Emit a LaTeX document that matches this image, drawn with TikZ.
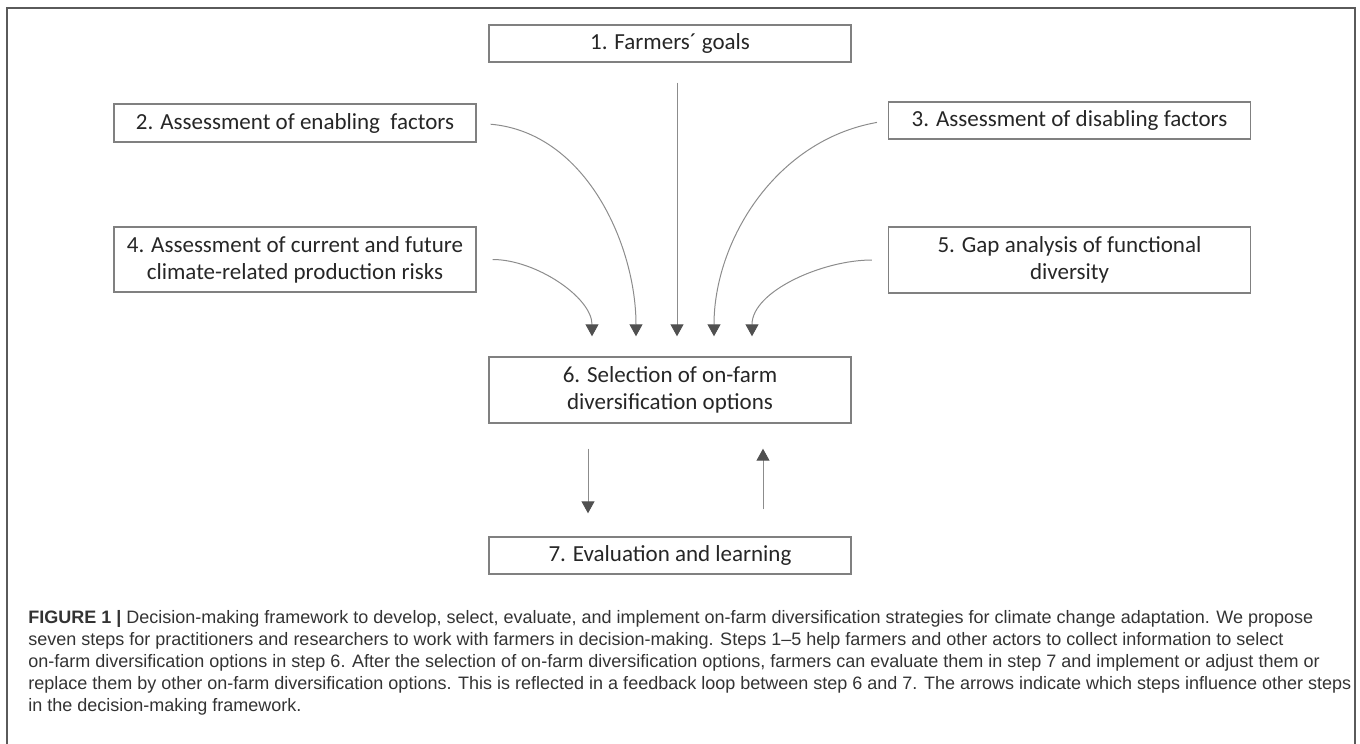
\documentclass[tikz,border=0pt]{standalone}
\usepackage{fontspec}
\setmainfont{Carlito}
\newfontfamily\capfont{Liberation Sans}
\usetikzlibrary{arrows.meta}
\definecolor{boxline}{HTML}{808080}
\definecolor{arrline}{HTML}{8C8C8C}
\definecolor{arrtip}{HTML}{505050}
\definecolor{framecol}{HTML}{5A5A5A}
\definecolor{captext}{HTML}{333333}

\begin{document}
\begin{tikzpicture}[x=0.5pt,y=0.5pt,
    stepbox/.style={draw=boxline, line width=0.7pt, minimum width=181pt, inner sep=0pt,
      align=center, text=black!85, font=\fontsize{11.5}{13.5}\selectfont},
    flow/.style={draw=arrline, line width=0.5pt,
      -{Triangle[length=6pt,width=6.5pt,color=arrtip]}}]
  \useasboundingbox (0,0) rectangle (1360,-744);
  \draw[framecol, line width=0.8pt] (7,-760) -- (7,-8) -- (1355,-8) -- (1355,-760);

  \node[stepbox, minimum height=18.5pt] (goals) at (670,-43.5) {1. Farmers´ goals};
  \node[stepbox, minimum height=19pt] (enab) at (295,-123) {2. Assessment of enabling\ \ factors};
  \node[stepbox, minimum height=18.5pt] (disab) at (1069.5,-120.5) {3. Assessment of disabling factors};
  \node[stepbox, minimum height=32.5pt] (risk) at (295,-259.5) {4. Assessment of current and future\\climate-related production risks};
  \node[stepbox, minimum height=33pt] (gap) at (1069.5,-260) {5. Gap analysis of functional\\diversity};
  \node[stepbox, minimum height=33pt] (sel) at (670,-390) {6. Selection of on-farm\\diversification options};
  \node[stepbox, minimum height=18.5pt] (eval) at (670,-555.5) {7. Evaluation and learning};

  \draw[flow, shorten <=10pt, shorten >=10pt] ([xshift=3.5pt]goals.south) -- ([xshift=3.5pt]sel.north);
  \draw[flow, shorten <=7pt, shorten >=10pt] (enab.east) to[out=-5,in=90] ([xshift=-17pt]sel.north);
  \draw[flow, shorten <=8pt, shorten >=10pt] (risk.east) to[out=0,in=90] ([xshift=-39pt]sel.north);
  \draw[flow, shorten <=5.5pt, shorten >=10pt] (disab.west) to[out=190,in=90] ([xshift=22pt]sel.north);
  \draw[flow, shorten <=8pt, shorten >=10pt] (gap.west) to[out=180,in=90] ([xshift=41pt]sel.north);

  \draw[flow, shorten <=12.5pt, shorten >=11.5pt] ([xshift=-41pt]sel.south) -- ([xshift=-41pt]eval.north);
  \draw[flow, shorten <=13.5pt, shorten >=12.5pt] ([xshift=46.5pt]eval.north) -- ([xshift=46.5pt]sel.south);

  \node[anchor=north west, inner sep=0pt, align=left, text=captext,
    font=\capfont\fontsize{9}{11}\selectfont] (caption) at (28,-610)
    {\textbf{FIGURE 1 |} Decision-making framework to develop, select, evaluate, and implement on-farm diversification strategies for climate change adaptation. We propose\\
     seven steps for practitioners and researchers to work with farmers in decision-making. Steps 1–5 help farmers and other actors to collect information to select\\
     on-farm diversification options in step 6. After the selection of on-farm diversification options, farmers can evaluate them in step 7 and implement or adjust them or\\
     replace them by other on-farm diversification options. This is reflected in a feedback loop between step 6 and 7. The arrows indicate which steps influence other steps\\
     in the decision-making framework.};
\end{tikzpicture}
\end{document}
